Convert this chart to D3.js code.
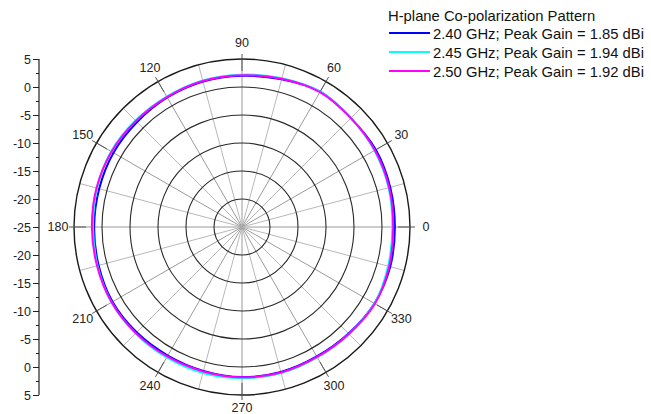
<!DOCTYPE html>
<html><head><meta charset="utf-8">
<script src="https://cdn.jsdelivr.net/npm/d3@7"></script>
<style>html,body{margin:0;padding:0;background:#fff;}svg{display:block;font-family:"Liberation Sans",Arial,sans-serif;}</style>
</head><body><svg id="c" width="651" height="414"></svg>
<script>
const angles = [0,15,30,45,60,75,90,105,120,135,150,165,180,195,210,225,240,255,270,285,300,315,330,345];
const gain240 = [2.3,2.4,2.6,2.5,2.9,2.3,2.0,1.9,1.7,1.5,1.5,1.4,1.4,1.5,1.7,1.6,1.5,1.6,1.8,1.8,1.7,1.9,2.3,2.4];
const gain245 = [1.85,2.1,2.3,2.5,2.9,2.5,2.2,2.1,1.9,1.9,2.0,1.8,1.6,1.7,1.9,1.9,1.9,2.0,2.0,2.0,1.9,2.0,2.3,2.0];
const gain250 = [2.0,2.2,2.4,2.5,2.8,2.4,2.1,2.0,1.8,1.8,1.9,1.9,1.8,1.8,1.9,1.8,1.7,1.7,1.85,1.9,1.8,2.0,2.4,2.2];
const seriesNames = ["2.40 GHz; Peak Gain = 1.85 dBi","2.45 GHz; Peak Gain = 1.94 dBi","2.50 GHz; Peak Gain = 1.92 dBi"];
const seriesColors = ["#0000ff","#00ffff","#ff00ff"];
const legendTitle = "H-plane Co-polarization Pattern";
const ringValues = [-20,-15,-10,-5,0,5];
const angleLabels = [0,30,60,90,120,150,180,210,240,270,300,330];
const yTicksMajor = [5,0,-5,-10,-15,-20,-25];

const svg = d3.select("#c");
const cx = 242, cy = 227, R = 168;
const r = d3.scaleLinear().domain([-25,5]).range([0,R]);
const rad = a => a*Math.PI/180;
const g = svg.append("g").attr("transform",`translate(${cx},${cy})`);

// spokes every 15 deg
const spokes = d3.range(0,360,15);
g.selectAll("line.sp").data(spokes).join("line")
  .attr("x1",0).attr("y1",0)
  .attr("x2",d=>R*Math.cos(rad(d))).attr("y2",d=>-R*Math.sin(rad(d)))
  .attr("stroke",d=>d%30===0?"#9a9a9a":"#b8b8b8").attr("stroke-width",1);
// rings
g.selectAll("circle.ring").data(ringValues).join("circle")
  .attr("r",d=>r(d)).attr("fill","none")
  .attr("stroke",d=>d===5?"#1a1a1a":"#2a2a2a").attr("stroke-width",d=>d===5?1.4:1.1);
// major ticks
g.selectAll("line.tk").data(angleLabels).join("line")
  .attr("x1",d=>(R-12)*Math.cos(rad(d))).attr("y1",d=>-(R-12)*Math.sin(rad(d)))
  .attr("x2",d=>(R+5)*Math.cos(rad(d))).attr("y2",d=>-(R+5)*Math.sin(rad(d)))
  .attr("stroke","#555").attr("stroke-width",1);
// angle labels
g.selectAll("text.al").data(angleLabels).join("text")
  .attr("x",d=>184*Math.cos(rad(d))).attr("y",d=>-(d===270?181:184)*Math.sin(rad(d)))
  .attr("text-anchor","middle").attr("dominant-baseline","central")
  .attr("font-size",12.5).attr("fill","#222").text(d=>d);

// patterns
const line = d3.lineRadial().angle(d=>rad(90-d[0])).radius(d=>r(d[1])).curve(d3.curveCatmullRomClosed);
[gain240,gain245,gain250].forEach((s,i)=>{
  g.append("path").datum(angles.map((a,j)=>[a,s[j]]))
   .attr("d",line).attr("fill","none").attr("stroke",seriesColors[i]).attr("stroke-width",2);
});

// left y-axis
const axX = 39;
const yTop = d3.scaleLinear().domain([-25,5]).range([cy,cy-R]);
const yBot = d3.scaleLinear().domain([-25,5]).range([cy,cy+R]);
const minor = d3.range(-25,5.01,2.5);
const fmt = d => String(d);
const ax = svg.append("g").attr("transform",`translate(${axX},0)`);
ax.append("g").call(d3.axisLeft(yTop).tickValues(minor).tickSize(3).tickFormat("")).call(s=>s.select(".domain").remove());
ax.append("g").call(d3.axisLeft(yBot).tickValues(minor).tickSize(3).tickFormat("")).call(s=>s.select(".domain").remove());
ax.append("g").call(d3.axisLeft(yTop).tickValues(yTicksMajor).tickSize(6).tickPadding(2).tickFormat(fmt)).call(s=>s.select(".domain").remove());
ax.append("g").call(d3.axisLeft(yBot).tickValues(yTicksMajor.filter(v=>v!==-25)).tickSize(6).tickPadding(2).tickFormat(fmt)).call(s=>s.select(".domain").remove());
ax.append("line").attr("x1",0).attr("x2",0).attr("y1",cy-R).attr("y2",cy+R).attr("stroke","#222").attr("stroke-width",1.2);
ax.selectAll("text").attr("font-size",12.5).attr("fill","#222").attr("font-family","Liberation Sans, Arial, sans-serif");
ax.selectAll(".tick line").attr("stroke","#222");

// legend
const lg = svg.append("g");
lg.append("text").attr("x",388).attr("y",16).attr("dominant-baseline","central").attr("font-size",14.8).attr("fill","#111").text(legendTitle);
seriesNames.forEach((n,i)=>{
  const y = 33 + i*19;
  lg.append("line").attr("x1",389).attr("x2",430).attr("y1",y).attr("y2",y).attr("stroke",seriesColors[i]).attr("stroke-width",2);
  lg.append("text").attr("x",433).attr("y",y+1).attr("dominant-baseline","central").attr("font-size",14.8).attr("fill","#111").text(n);
});
</script></body></html>
